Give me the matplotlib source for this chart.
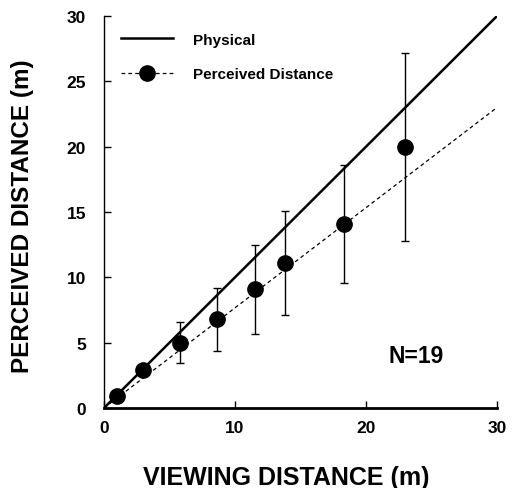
import numpy as np
import matplotlib.pyplot as plt

plt.rcParams['font.family'] = ['Liberation Sans', 'DejaVu Sans']
plt.rcParams['font.weight'] = 'bold'

# data
viewing = [1.0, 3.0, 5.8, 8.6, 11.5, 13.8, 18.3, 23.0]
perceived = [0.9, 2.9, 5.0, 6.8, 9.1, 11.1, 14.1, 20.0]
err = [0.2, 0.3, 1.55, 2.4, 3.4, 4.0, 4.5, 7.2]
physical_x = [0, 30]
fit_x = [0, 30]
fit_y = [0, 23.0]

fig = plt.figure(figsize=(5.14, 4.89), dpi=100)
ax = fig.add_axes([0.2023, 0.1636, 0.7647, 0.8016])

ax.plot(physical_x, physical_x, color='black', lw=1.8, label='Physical')
ax.plot(fit_x, fit_y, color='black', lw=0.9, ls=(0, (3, 2.5)))
ax.errorbar(viewing, perceived, yerr=err, fmt='none', ecolor='black',
            elinewidth=1.0, capsize=3, capthick=1.0)
ax.plot(viewing, perceived, 'o', color='black', ms=11)
# legend proxy for the perceived series
ax.plot([], [], color='black', lw=0.9, ls=(0, (3, 2.5)), marker='o', ms=11,
        label='Perceived Distance')

ax.set_xlim(0, 30)
ax.set_ylim(0, 30)
ax.set_xticks([0, 10, 20, 30])
ax.set_yticks([0, 5, 10, 15, 20, 25, 30])
ax.tick_params(direction='in', length=5, width=1, labelsize=12.5)
ax.tick_params(axis='x', pad=9)
ax.tick_params(axis='y', pad=13)
for lab in ax.get_xticklabels() + ax.get_yticklabels():
    lab.set_fontweight('bold')
ax.spines['top'].set_visible(False)
ax.spines['right'].set_visible(False)
ax.spines['bottom'].set_linewidth(2)
ax.spines['left'].set_linewidth(1)

ax.set_xlabel('VIEWING DISTANCE (m)', fontsize=18, fontweight='bold', labelpad=21)
ax.xaxis.label.set_x(0.464)
ax.set_ylabel('PERCEIVED DISTANCE (m)', fontsize=17.5, fontweight='bold', labelpad=23)
ax.yaxis.label.set_y(0.492)

ax.text(21.7, 3.5, 'N=19', fontsize=16.5, fontweight='bold', ha='left', va='baseline')

leg = ax.legend(loc='upper left', bbox_to_anchor=(0.0, 1.0), frameon=False,
                fontsize=11, handlelength=3.4, handletextpad=1.3,
                labelspacing=1.35, borderaxespad=0.3, borderpad=0.8)
for t in leg.get_texts():
    t.set_fontweight('bold')

fig.savefig('out.png', dpi=100)
